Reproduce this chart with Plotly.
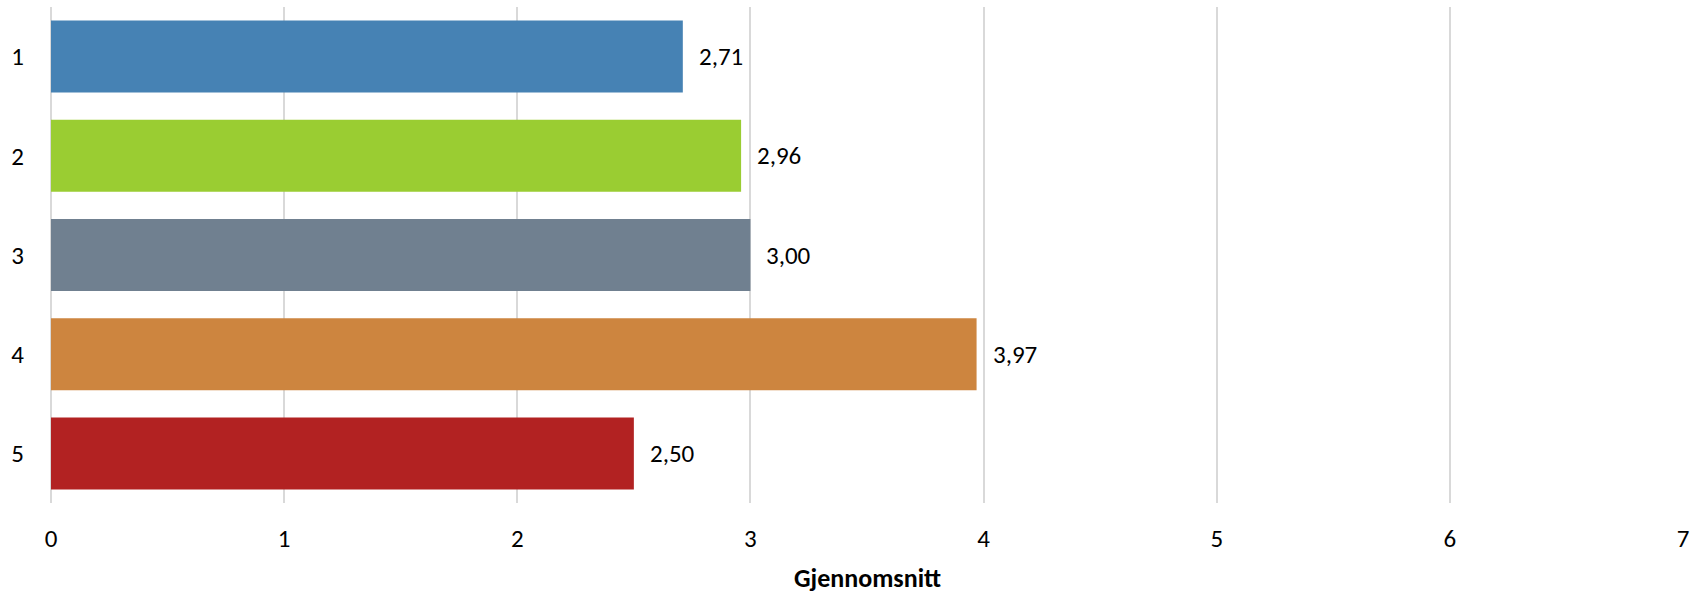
import plotly.graph_objects as go

# Average score per group
categories = ["1", "2", "3", "4", "5"]
values = [2.71, 2.96, 3.00, 3.97, 2.50]
labels = ["2,71", "2,96", "3,00", "3,97", "2,50"]
colors = ["#4682B4", "#9ACD32", "#708090", "#CD853F", "#B22222"]
x_ticks = [0, 1, 2, 3, 4, 5, 6, 7]
x_title = "Gjennomsnitt"

FONT = "Calibri, Carlito, Lato, sans-serif"

fig = go.Figure(
    go.Bar(
        x=values,
        y=categories,
        orientation="h",
        marker=dict(color=colors, line=dict(width=0)),
        hoverinfo="skip",
    )
)

# value labels just right of each bar end (category axis uses index positions)
for i, (val, lab) in enumerate(zip(values, labels)):
    fig.add_annotation(
        x=val, y=i, text=lab, showarrow=False,
        xanchor="left", yanchor="middle", xshift=14,
        font=dict(family=FONT, size=25, color="#000000"),
    )

fig.add_annotation(
    x=0.5, y=0, xref="paper", yref="paper", text="<b>" + x_title + "</b>",
    showarrow=False, xanchor="center", yanchor="middle", yshift=-75,
    font=dict(family=FONT, size=26, color="#000000"),
)

fig.update_layout(
    width=1702, height=595,
    margin=dict(l=51, r=19, t=7, b=92),
    paper_bgcolor="white", plot_bgcolor="white",
    bargap=0.274,
    showlegend=False,
    font=dict(family=FONT, size=25, color="#000000"),
)
fig.update_xaxes(
    range=[0, 7], tickvals=x_ticks, ticktext=[str(t) for t in x_ticks],
    showgrid=True, gridcolor="#d9d9d9", gridwidth=2,
    zeroline=True, zerolinecolor="#d9d9d9", zerolinewidth=2,
    showline=False, ticks="", ticklabelstandoff=18,
    fixedrange=True,
)
fig.update_yaxes(
    categoryorder="array", categoryarray=categories,
    range=[len(categories) - 0.5, -0.5],
    showgrid=False, zeroline=False, showline=False, ticks="",
    ticklabelstandoff=26, fixedrange=True,
)

fig.write_html("out.html", config={"displayModeBar": False})
